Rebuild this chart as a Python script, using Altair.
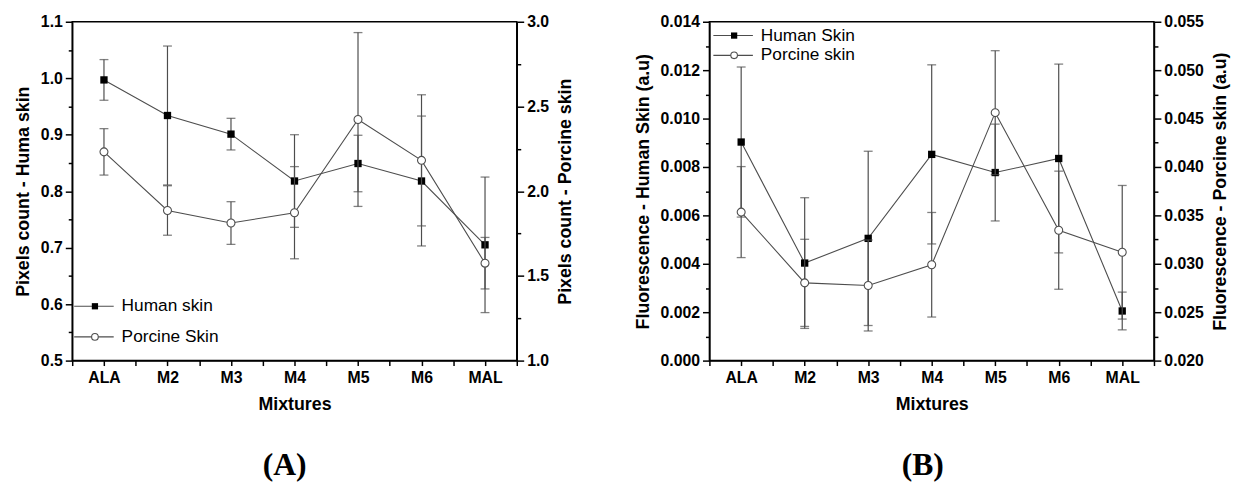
import json
import altair as alt
import pandas as pd

categories = ["ALA", "M2", "M3", "M4", "M5", "M6", "MAL"]

# Panel A : pixel counts
a_human = [0.997, 0.934, 0.901, 0.818, 0.849, 0.818, 0.705]
a_human_err = [0.036, 0.123, 0.028, 0.082, 0.050, 0.115, 0.120]
a_porcine = [2.232, 1.886, 1.812, 1.873, 2.423, 2.182, 1.575]
a_porcine_err = [0.137, 0.146, 0.126, 0.272, 0.513, 0.387, 0.152]

# Panel B : fluorescence
b_human = [0.00903, 0.00403, 0.00505, 0.00852, 0.00777, 0.00835, 0.00205]
b_human_err = [0.0031, 0.0027, 0.0036, 0.0037, 0.0020, 0.0039, 0.00078]
b_porcine = [0.03534, 0.02803, 0.02776, 0.0299, 0.04561, 0.03347, 0.03119]
b_porcine_err = [0.0047, 0.0045, 0.0047, 0.0054, 0.0064, 0.0061, 0.0069]

LINE = "#4d4d4d"
FONT = "Liberation Sans"

x_values = [0.5 + 0.5 * i for i in range(15)]
x_label_expr = (
    "datum.value % 1 === 0 ? " + json.dumps(categories) + "[datum.value - 1] : ''"
)


def make_x():
    return alt.X(
        "idx:Q",
        scale=alt.Scale(domain=[0.5, 7.5], nice=False, zero=False),
        axis=alt.Axis(
            values=x_values,
            labelExpr=x_label_expr,
            title="Mixtures",
            tickSize=5,
            labelPadding=4,
            titlePadding=10,
            labelOverlap=False,
        ),
    )


def ticks_list(lo, step, n):
    return [round(lo + step * i, 6) for i in range(n)]


def y_axis(orient, values, mult, fmt, title):
    test = f"abs(datum.value*{mult} - round(datum.value*{mult})) < 1e-6"
    props = dict(
        orient=orient,
        values=values,
        labelExpr=f"{test} ? format(datum.value, '{fmt}') : ''",
        tickSize={"condition": {"test": test, "value": 7}, "value": 4},
        title=title,
        labelOverlap=False,
        labelPadding=3,
        titlePadding=8,
    )
    if orient == "right":
        props["titleAngle"] = 270
        props["titleBaseline"] = "top"
    return alt.Axis(**props)


def series(df, col, scale, axis, kind):
    y = lambda c: alt.Y(f"{c}:Q", scale=scale, axis=axis)
    line = alt.Chart(df).mark_line(color=LINE, strokeWidth=1.1).encode(x=make_x(), y=y(col))
    rule = alt.Chart(df).mark_rule(color=LINE, strokeWidth=1.2).encode(
        x=make_x(), y=y(col + "_lo"), y2=f"{col}_hi:Q"
    )
    cap_lo = alt.Chart(df).mark_tick(orient="horizontal", size=9, thickness=1.3, color=LINE).encode(
        x=make_x(), y=y(col + "_lo")
    )
    cap_hi = alt.Chart(df).mark_tick(orient="horizontal", size=9, thickness=1.3, color=LINE).encode(
        x=make_x(), y=y(col + "_hi")
    )
    if kind == "square":
        pts = alt.Chart(df).mark_square(color="black", size=55, opacity=1).encode(x=make_x(), y=y(col))
    else:
        pts = alt.Chart(df).mark_point(
            shape="circle", filled=True, fill="white", stroke=LINE, strokeWidth=1.1, size=65, opacity=1
        ).encode(x=make_x(), y=y(col))
    return [line, rule, cap_lo, cap_hi, pts]


def legend_layers(x0, ys, labels, fontsize):
    one = pd.DataFrame({"k": [0]})
    out = []
    for yy, lab, kind in zip(ys, labels, ["square", "circle"]):
        out.append(
            alt.Chart(one).mark_rule(color=LINE, strokeWidth=1.1).encode(
                x=alt.value(x0), x2=alt.value(x0 + 40), y=alt.value(yy)
            )
        )
        if kind == "square":
            out.append(
                alt.Chart(one).mark_square(color="black", size=40, opacity=1).encode(
                    x=alt.value(x0 + 21), y=alt.value(yy)
                )
            )
        else:
            out.append(
                alt.Chart(one).mark_point(
                    shape="circle", filled=True, fill="white", stroke=LINE, strokeWidth=1.1, size=45, opacity=1
                ).encode(x=alt.value(x0 + 21), y=alt.value(yy))
            )
        out.append(
            alt.Chart(one).mark_text(
                align="left", baseline="middle", font=FONT, fontSize=fontsize, color="black"
            ).encode(x=alt.value(x0 + 48), y=alt.value(yy), text=alt.value(lab))
        )
    return out


def panel(h, he, p, pe, ldom, lvals, lmult, lfmt, ltitle, rdom, rvals, rmult, rfmt, rtitle,
          leg_x, leg_ys, leg_labels, tag, tag_dx):
    df = pd.DataFrame({
        "idx": list(range(1, len(categories) + 1)),
        "cat": categories,
        "h": h,
        "h_lo": [a - b for a, b in zip(h, he)],
        "h_hi": [a + b for a, b in zip(h, he)],
        "p": p,
        "p_lo": [a - b for a, b in zip(p, pe)],
        "p_hi": [a + b for a, b in zip(p, pe)],
    })
    lscale = alt.Scale(domain=ldom, nice=False, zero=False)
    rscale = alt.Scale(domain=rdom, nice=False, zero=False)
    laxis = y_axis("left", lvals, lmult, lfmt, ltitle)
    raxis = y_axis("right", rvals, rmult, rfmt, rtitle)
    human = alt.layer(*series(df, "h", lscale, laxis, "square"),
                      *legend_layers(leg_x, leg_ys, leg_labels, 17.5))
    porcine = alt.layer(*series(df, "p", rscale, raxis, "circle"))
    return (
        alt.layer(human, porcine)
        .resolve_scale(y="independent")
        .properties(
            width=450,
            height=343,
            title=alt.TitleParams(
                tag, orient="bottom", font="Liberation Serif", fontSize=32,
                fontWeight="bold", offset=38, anchor="middle", color="black", dx=tag_dx,
            ),
        )
    )


panel_a = panel(
    a_human, a_human_err, a_porcine, a_porcine_err,
    [0.5, 1.1], ticks_list(0.5, 0.05, 13), 10, ".1f", "Pixels count - Huma skin",
    [1.0, 3.0], ticks_list(1.0, 0.25, 9), 2, ".1f", "Pixels count - Porcine skin",
    2, [288, 319], ["Human skin", "Porcine Skin"], "(A)", -10,
)

panel_b = panel(
    b_human, b_human_err, b_porcine, b_porcine_err,
    [0.0, 0.014], ticks_list(0.0, 0.001, 15), 500, ".3f", "Fluorescence - Human Skin (a.u)",
    [0.020, 0.055], ticks_list(0.020, 0.0025, 15), 200, ".3f", "Fluorescence - Porcine skin (a.u)",
    4, [14, 34], ["Human Skin", "Porcine skin"], "(B)", -9,
)

chart = (
    alt.hconcat(panel_a, panel_b, spacing=59)
    .properties(padding={"left": 6, "top": 2, "right": 4, "bottom": 0}, background="white")
    .configure_view(stroke="black", strokeWidth=1.5)
    .configure_axis(
        grid=False,
        domainColor="black",
        domainWidth=1.5,
        tickColor="black",
        tickWidth=1.5,
        labelFont=FONT,
        labelFontSize=16,
        labelFontWeight="bold",
        labelColor="black",
        titleFont=FONT,
        titleFontSize=18,
        titleFontWeight="bold",
        titleColor="black",
    )
)

chart.save("out.html", embed_options={"renderer": "svg", "actions": False})
